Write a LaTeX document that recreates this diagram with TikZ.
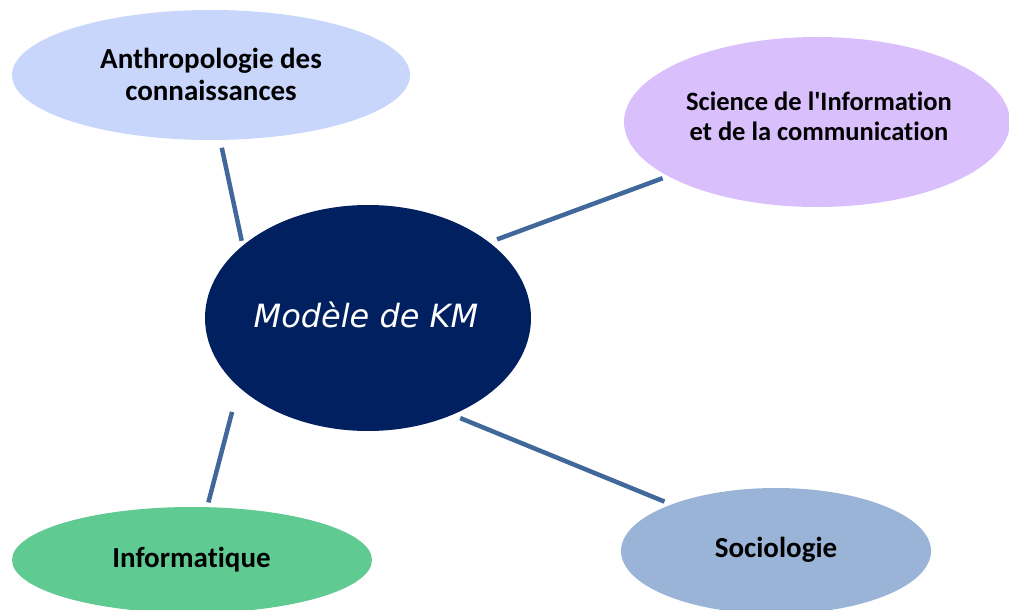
\documentclass[tikz,border=0pt]{standalone}
\usepackage{fontspec}
\newfontfamily\calib{Carlito}[Ligatures=NoCommon]
\newfontfamily\dejavu{DejaVu Sans}
\usetikzlibrary{shapes.geometric}
\definecolor{cAnthro}{HTML}{C9D6FB}
\definecolor{cSIC}{HTML}{D9BFFB}
\definecolor{cKM}{HTML}{002060}
\definecolor{cInfo}{HTML}{5FCB92}
\definecolor{cSocio}{HTML}{9AB4D8}
\definecolor{cLink}{HTML}{41689A}
\tikzset{
  blob/.style={ellipse, inner sep=0pt, outer sep=0pt, draw=none, align=center},
  lbl/.style={align=center, inner sep=0pt, font=\calib\bfseries\fontsize{29}{32}\selectfont},
  link/.style={draw=cLink, line width=4.5pt},
}
\begin{document}
\begin{tikzpicture}[x=1pt,y=-1pt]
\useasboundingbox (0,0) rectangle (1009,610);
\clip (0,0) rectangle (1009,610);
\node[blob, fill=cAnthro, minimum width=398pt, minimum height=130pt] (anthro) at (211,75) {};
\node[lbl] (anthrot) at (211,74) {Anthropologie des\\connaissances};
\node[blob, fill=cSIC, minimum width=386pt, minimum height=170pt] (sic) at (817,122) {};
\node[lbl, font=\calib\bfseries\fontsize{26.5}{30}\selectfont] (sict) at (819,116)
      {Science de l\char39 Information\\et de la communication};
\node[blob, fill=cKM, minimum width=326pt, minimum height=226pt] (km) at (368,318) {};
\node[lbl, font=\dejavu\itshape\fontsize{32}{36}\selectfont, text=white] (kmt) at (366,315)
      {Modèle de KM};
\node[blob, fill=cInfo, minimum width=360pt, minimum height=106pt] (info) at (192,560) {};
\node[lbl] (infot) at (191.5,560) {Informatique};
\node[blob, fill=cSocio, minimum width=310pt, minimum height=126pt] (socio) at (776,551) {};
\node[lbl] (sociot) at (776,550) {Sociologie};
\draw[link, shorten <=8pt, shorten >=5pt] (anthro.-82.1) -- (km.150.8);
\draw[link, shorten <=8.5pt, shorten >=6pt] (km.32.9) -- (sic.-160.6);
\draw[link, shorten <=26pt, shorten >=5pt] (km.208.7) -- (info.74.6);
\draw[link, shorten <=8.7pt, shorten >=7.6pt] (km.-49) -- (socio.156.5);
\end{tikzpicture}
\end{document}
